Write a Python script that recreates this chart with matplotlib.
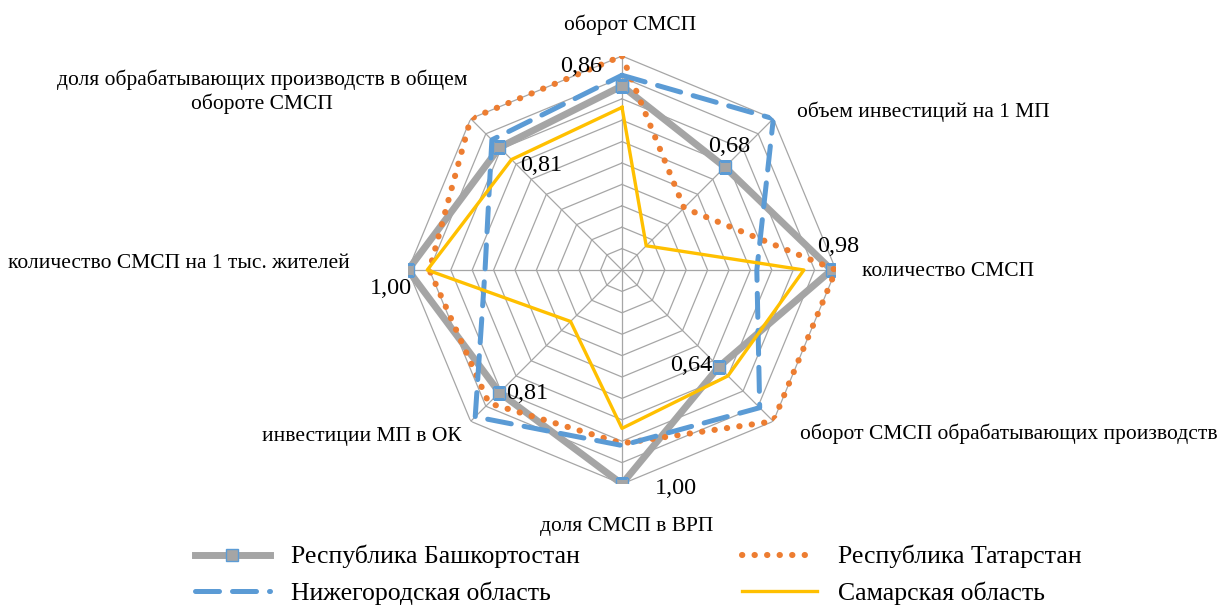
import numpy as np
import matplotlib
matplotlib.use("Agg")
import matplotlib.pyplot as plt

plt.rcParams['font.family'] = ['Liberation Serif', 'DejaVu Serif']

categories = ["оборот СМСП",
              "объем инвестиций на 1 МП",
              "количество СМСП",
              "оборот СМСП обрабатывающих производств",
              "доля СМСП в ВРП",
              "инвестиции МП в ОК",
              "количество СМСП на 1 тыс. жителей",
              "доля обрабатывающих производств в общем\nобороте СМСП"]

bashkortostan = [0.86, 0.68, 0.98, 0.64, 1.00, 0.81, 1.00, 0.81]
tatarstan = [1.00, 0.41, 1.00, 1.00, 0.81, 0.88, 0.90, 1.00]
nizhny = [0.91, 1.00, 0.63, 0.91, 0.82, 0.97, 0.64, 0.86]
samara = [0.76, 0.16, 0.85, 0.70, 0.74, 0.34, 0.91, 0.73]

series_names = ["Республика Башкортостан", "Республика Татарстан",
                "Нижегородская область", "Самарская область"]

W, H = 1218, 605
fig = plt.figure(figsize=(W / 100, H / 100), dpi=100)

# polar axes placed so the centre and radius match the picture
cx, cy, R = 622, 270, 214
ax = fig.add_axes([(cx - R) / W, 1 - (cy + R) / H, 2 * R / W, 2 * R / H],
                  projection='polar')
ax.set_theta_zero_location('N')
ax.set_theta_direction(-1)
ax.set_ylim(0, 1)
ax.grid(False)
ax.spines['polar'].set_visible(False)
ax.set_xticks([])
ax.set_yticks([])
ax.patch.set_alpha(0)

n = len(categories)
ang = np.arange(n) * 2 * np.pi / n
ang_c = np.append(ang, ang[0])

grid_col = '#a6a6a6'
for lv in np.arange(1, 11) / 10:
    ax.plot(ang_c, [lv] * (n + 1), color=grid_col, lw=0.9, zorder=1)
for a in ang:
    ax.plot([a, a], [0, 1], color=grid_col, lw=0.9, zorder=1)


def closed(v):
    return v + v[:1]


l1, = ax.plot(ang_c, closed(bashkortostan), color='#a5a5a5', lw=5,
              marker='s', ms=9, mfc='#a5a5a5', mec='#5b9bd5', mew=1.0,
              solid_joinstyle='miter', zorder=3)
l2, = ax.plot(ang_c, closed(tatarstan), color='#ed7d31', lw=4.4,
              linestyle=(0, (0.05, 2.0)), dash_capstyle='round', zorder=4)
l3, = ax.plot(ang_c, closed(nizhny), color='#5b9bd5', lw=3.6,
              linestyle=(0, (4.8, 2.6)), dash_capstyle='round', zorder=5)
l4, = ax.plot(ang_c, closed(samara), color='#ffc000', lw=2.4, zorder=6)

# data labels for Bashkortostan (offsets in points)
offsets = [(-14, 14, 'right'), (3, 15, 'center'), (5, 17, 'center'),
           (-5, 1, 'right'), (24, -3, 'left'), (5, -1, 'left'),
           (3, -13, 'right'), (15, -13, 'left')]
for a, v, (dx, dy, ha) in zip(ang, bashkortostan, offsets):
    ax.annotate(f"{v:.2f}".replace('.', ','), xy=(a, v), xytext=(dx, dy),
                textcoords='offset points', ha=ha, va='center',
                fontsize=17.5, zorder=7)

# category labels
lab_pos = [(630, 25, 'center'), (797, 112, 'left'), (862, 271, 'left'),
           (800, 434, 'left'), (627, 526, 'center'), (462, 437, 'right'),
           (350, 264, 'right'), (262, 92, 'center')]
for txt, (px, py, ha) in zip(categories, lab_pos):
    fig.text(px / W, 1 - py / H, txt, ha=ha, va='center', fontsize=15.5,
             multialignment='center', linespacing=1.25)

fig.legend([l1, l3, l2, l4],
           [series_names[0], series_names[2], series_names[1], series_names[3]],
           ncol=2, loc='upper left', bbox_to_anchor=(195 / W, 1 - 545 / H),
           frameon=False, fontsize=18.5, handlelength=2.9, handletextpad=0.85,
           columnspacing=6.3, labelspacing=0.5, borderpad=0, borderaxespad=0)

fig.savefig('out.png', dpi=100)
